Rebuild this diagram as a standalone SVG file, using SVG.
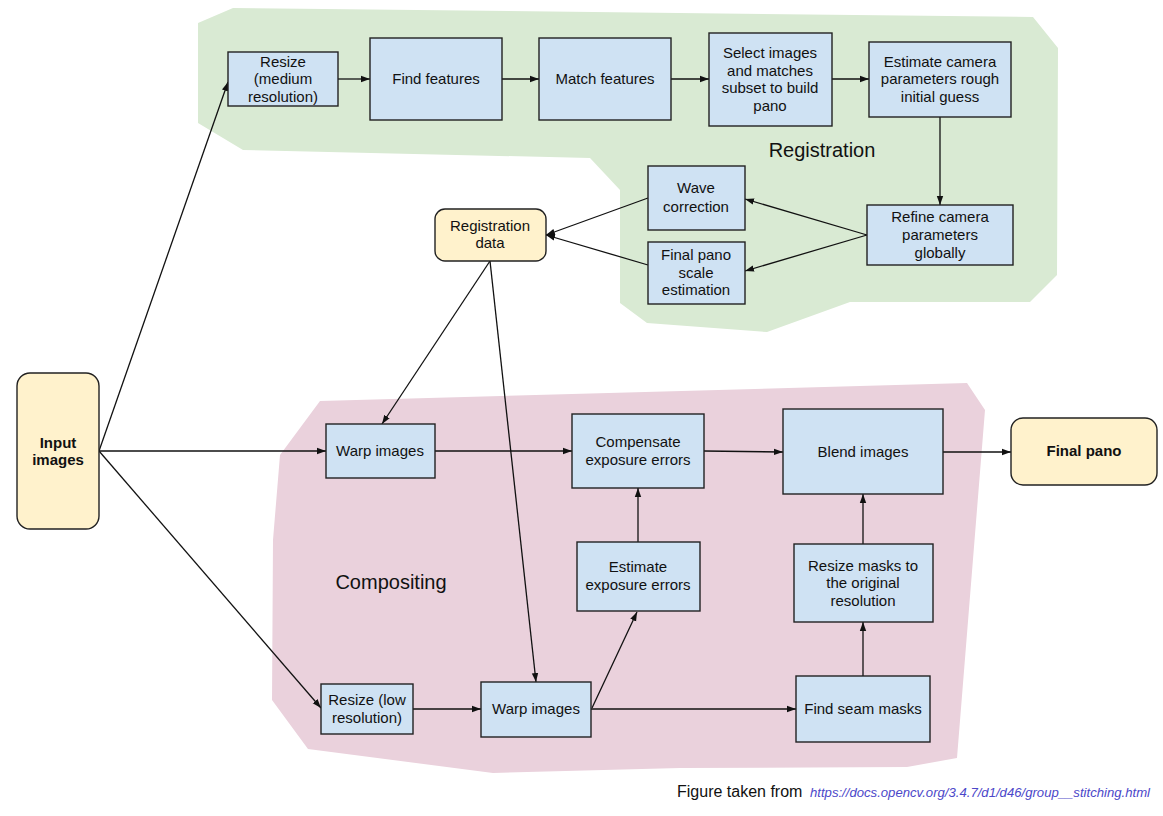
<svg xmlns="http://www.w3.org/2000/svg" width="1163" height="816" viewBox="0 0 1163 816">
<defs>
<style>
.box{fill:#cfe2f3;stroke:#222;stroke-width:1.4}
.term{fill:#fff2cc;stroke:#222;stroke-width:1.4}
.t{font-family:"Liberation Sans",Arial,sans-serif;font-size:15px;fill:#111;text-anchor:middle}
.b{font-weight:bold}
.lbl{font-family:"Liberation Sans",Arial,sans-serif;font-size:20px;fill:#111;text-anchor:middle}
.c line{stroke:#111;stroke-width:1.3;marker-end:url(#ah)}
</style>
<marker id="ah" markerUnits="userSpaceOnUse" markerWidth="10" markerHeight="8" refX="9" refY="4" orient="auto">
<path d="M0,0.8 L9,4 L0,7.2 z" fill="#111"/>
</marker>
</defs>
<rect width="1163" height="816" fill="#fff"/>
<g id="regions">
<polygon points="233,8 1033,17 1058,48 1057,275 1030,302 850,302 767,332 647,323 620,303 620,190 590,158 243,150 198,123 198,23" fill="#d9ead3"/>
<polygon points="320,401 967,383 985,410 957,758 907,767 680,768 493,773 308,749 272,700 273,540 280,455" fill="#ead1dc"/>
<text class="lbl" x="822" y="157">Registration</text>
<text class="lbl" x="391" y="589">Compositing</text>
</g>
<g class="c" id="connectors">
<line x1="338" y1="79" x2="370" y2="79"/>
<line x1="502" y1="79" x2="539" y2="79"/>
<line x1="671" y1="79" x2="709" y2="79"/>
<line x1="832" y1="79" x2="869" y2="79"/>
<line x1="940" y1="117" x2="940" y2="205"/>
<line x1="867" y1="235" x2="745" y2="199"/>
<line x1="867" y1="235" x2="745" y2="271"/>
<line x1="648" y1="198" x2="546" y2="235"/>
<line x1="648" y1="265" x2="546" y2="235"/>
<line x1="99" y1="451" x2="228" y2="82"/>
<line x1="99" y1="451" x2="326" y2="451"/>
<line x1="99" y1="451" x2="321" y2="708"/>
<line x1="490" y1="261" x2="382" y2="424"/>
<line x1="490" y1="261" x2="536" y2="682"/>
<line x1="435" y1="451" x2="572" y2="451"/>
<line x1="638" y1="542" x2="638" y2="488"/>
<line x1="704" y1="451" x2="783" y2="452"/>
<line x1="943" y1="452" x2="1011" y2="452"/>
<line x1="413" y1="709" x2="481" y2="709"/>
<line x1="591" y1="709" x2="796" y2="709"/>
<line x1="592" y1="708" x2="637" y2="612"/>
<line x1="863" y1="676" x2="863" y2="622"/>
<line x1="863" y1="544" x2="863" y2="494"/>
</g>
<g id="n-input"><rect class="term" x="17" y="373" width="82" height="156" rx="13"/><text class="t b" x="58" y="448">Input</text><text class="t b" x="58" y="465">images</text></g>
<g id="n-resize-med"><rect class="box" x="228" y="52" width="110" height="54"/><text class="t" x="283" y="67">Resize</text><text class="t" x="283" y="84">(medium</text><text class="t" x="283" y="102">resolution)</text></g>
<g id="n-find"><rect class="box" x="370" y="38" width="132" height="82"/><text class="t" x="436" y="84">Find features</text></g>
<g id="n-match"><rect class="box" x="539" y="38" width="132" height="82"/><text class="t" x="605" y="84">Match features</text></g>
<g id="n-select"><rect class="box" x="709" y="33" width="123" height="93"/><text class="t" x="770" y="58">Select images</text><text class="t" x="770" y="76">and matches</text><text class="t" x="770" y="93">subset to build</text><text class="t" x="770" y="111">pano</text></g>
<g id="n-estimate-cam"><rect class="box" x="869" y="42" width="142" height="75"/><text class="t" x="940" y="67">Estimate camera</text><text class="t" x="940" y="84">parameters rough</text><text class="t" x="940" y="102">initial guess</text></g>
<g id="n-refine"><rect class="box" x="867" y="205" width="146" height="60"/><text class="t" x="940" y="222">Refine camera</text><text class="t" x="940" y="240">parameters</text><text class="t" x="940" y="258">globally</text></g>
<g id="n-wave"><rect class="box" x="648" y="166" width="97" height="64"/><text class="t" x="696" y="193">Wave</text><text class="t" x="696" y="212">correction</text></g>
<g id="n-scale"><rect class="box" x="648" y="242" width="97" height="62"/><text class="t" x="696" y="260">Final pano</text><text class="t" x="696" y="278">scale</text><text class="t" x="696" y="295">estimation</text></g>
<g id="n-regdata"><rect class="term" x="435" y="209" width="111" height="52" rx="10"/><text class="t" x="490" y="231">Registration</text><text class="t" x="490" y="248">data</text></g>
<g id="n-warp1"><rect class="box" x="326" y="424" width="109" height="54"/><text class="t" x="380" y="456">Warp images</text></g>
<g id="n-compensate"><rect class="box" x="572" y="414" width="132" height="74"/><text class="t" x="638" y="447">Compensate</text><text class="t" x="638" y="465">exposure errors</text></g>
<g id="n-est-exp"><rect class="box" x="577" y="542" width="123" height="69"/><text class="t" x="638" y="572">Estimate</text><text class="t" x="638" y="590">exposure errors</text></g>
<g id="n-resize-low"><rect class="box" x="321" y="684" width="92" height="50"/><text class="t" x="367" y="705">Resize (low</text><text class="t" x="367" y="723">resolution)</text></g>
<g id="n-warp2"><rect class="box" x="481" y="682" width="110" height="55"/><text class="t" x="536" y="714">Warp images</text></g>
<g id="n-blend"><rect class="box" x="783" y="409" width="160" height="85"/><text class="t" x="863" y="457">Blend images</text></g>
<g id="n-resize-masks"><rect class="box" x="794" y="544" width="139" height="78"/><text class="t" x="863" y="571">Resize masks to</text><text class="t" x="863" y="588">the original</text><text class="t" x="863" y="606">resolution</text></g>
<g id="n-seam"><rect class="box" x="796" y="676" width="134" height="66"/><text class="t" x="863" y="714">Find seam masks</text></g>
<g id="n-final"><rect class="term" x="1011" y="418" width="146" height="67" rx="12"/><text class="t b" x="1084" y="456">Final pano</text></g>
<g id="footer">
<text x="677" y="797" font-family="'Liberation Sans',Arial,sans-serif" font-size="16" fill="#111">Figure taken from</text>
<text x="810" y="797" font-family="'Liberation Sans',Arial,sans-serif" font-size="13" font-style="italic" fill="#4b47c9" textLength="340" lengthAdjust="spacingAndGlyphs">https://docs.opencv.org/3.4.7/d1/d46/group__stitching.html</text>
</g>
</svg>
